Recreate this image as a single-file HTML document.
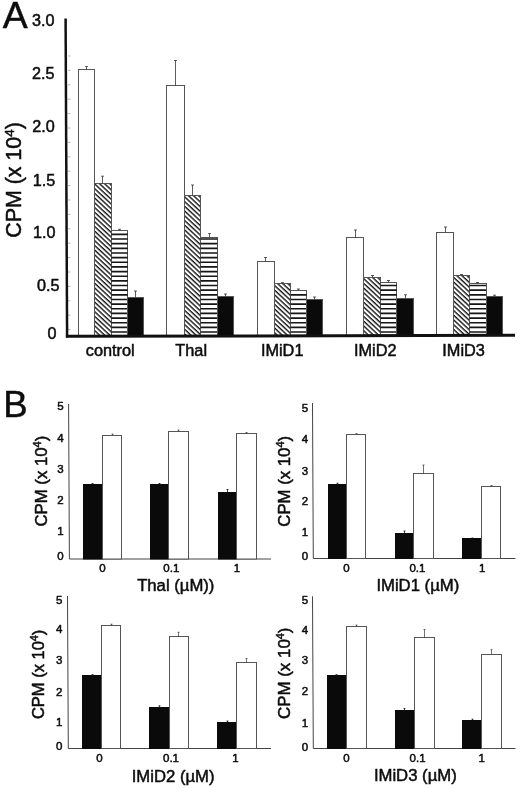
<!DOCTYPE html>
<html><head><meta charset="utf-8"><title>Figure</title>
<style>
html,body{margin:0;padding:0;background:#fff;}
body{width:520px;height:788px;overflow:hidden;}
svg{display:block;filter:grayscale(1);font-family:"Liberation Sans",sans-serif;}
text{fill:#0d0d0d;stroke:#0d0d0d;stroke-width:0.5px;stroke-linejoin:round;}
</style></head><body>
<svg width="520" height="788" viewBox="0 0 520 788">
<defs>
<pattern id="hz" patternUnits="userSpaceOnUse" x="0" y="336" width="10" height="4.5"><rect x="0" y="0" width="10" height="4.5" fill="#fff"/><rect x="0" y="2.6" width="10" height="1.7" fill="#1a1a1a"/></pattern>
<pattern id="dg" patternUnits="userSpaceOnUse" width="10" height="3.46" patternTransform="rotate(43)"><rect x="0" y="0" width="10" height="3.46" fill="#fff"/><rect x="0" y="0" width="10" height="1.4" fill="#161616"/></pattern>
</defs>
<rect width="520" height="788" fill="#fff"/>
<text x="2.8" y="28.2" font-size="37.4">A</text>
<text x="3.2" y="417.3" font-size="36.5">B</text>
<path d="M68 56.00H70.5" stroke="#9a9a9a" stroke-width="0.7"/>
<path d="M68 70.40H70.5" stroke="#9a9a9a" stroke-width="0.7"/>
<path d="M68 84.80H70.5" stroke="#9a9a9a" stroke-width="0.7"/>
<path d="M68 99.20H70.5" stroke="#9a9a9a" stroke-width="0.7"/>
<path d="M68 113.60H70.5" stroke="#9a9a9a" stroke-width="0.7"/>
<path d="M68 128.00H70.5" stroke="#9a9a9a" stroke-width="0.7"/>
<path d="M68 142.40H70.5" stroke="#9a9a9a" stroke-width="0.7"/>
<path d="M68 156.80H70.5" stroke="#9a9a9a" stroke-width="0.7"/>
<path d="M68 171.20H70.5" stroke="#9a9a9a" stroke-width="0.7"/>
<path d="M68 185.60H70.5" stroke="#9a9a9a" stroke-width="0.7"/>
<path d="M68 200.00H70.5" stroke="#9a9a9a" stroke-width="0.7"/>
<path d="M68 214.40H70.5" stroke="#9a9a9a" stroke-width="0.7"/>
<path d="M68 228.80H70.5" stroke="#9a9a9a" stroke-width="0.7"/>
<path d="M68 243.20H70.5" stroke="#9a9a9a" stroke-width="0.7"/>
<path d="M68 257.60H70.5" stroke="#9a9a9a" stroke-width="0.7"/>
<path d="M68 272.00H70.5" stroke="#9a9a9a" stroke-width="0.7"/>
<path d="M68 286.40H70.5" stroke="#9a9a9a" stroke-width="0.7"/>
<path d="M68 300.80H70.5" stroke="#9a9a9a" stroke-width="0.7"/>
<path d="M68 315.20H70.5" stroke="#9a9a9a" stroke-width="0.7"/>
<path d="M68 329.60H70.5" stroke="#9a9a9a" stroke-width="0.7"/>
<text x="54.5" y="26.2" font-size="16.2" text-anchor="end">3.0</text>
<text x="54.4" y="78.8" font-size="16.2" text-anchor="end">2.5</text>
<text x="54.8" y="132.2" font-size="16.2" text-anchor="end">2.0</text>
<text x="55.3" y="185.8" font-size="16.2" text-anchor="end">1.5</text>
<text x="55.5" y="238.2" font-size="16.2" text-anchor="end">1.0</text>
<text x="59.5" y="291.4" font-size="16.2" text-anchor="end">0.5</text>
<text x="56.6" y="338.6" font-size="16.2" text-anchor="end">0</text>
<text transform="translate(21.3,237.8) rotate(-90)" font-size="21.4">CPM (x 10<tspan font-size="13.5" dy="-7.5">4</tspan><tspan dy="7.5">)</tspan></text>
<rect x="78.50" y="69.50" width="16.00" height="266.00" fill="#fff" stroke="#555" stroke-width="1"/>
<path d="M86.50 69.50V66.60M85.00 66.60H88.00" stroke="#333" stroke-width="0.8" fill="none"/>
<rect x="94.50" y="183.50" width="17.00" height="152.00" fill="url(#dg)" stroke="#555" stroke-width="1"/>
<path d="M102.50 183.50V176.20M101.00 176.20H104.00" stroke="#333" stroke-width="0.8" fill="none"/>
<rect x="111.50" y="230.50" width="16.00" height="105.00" fill="#fff" stroke="#555" stroke-width="1"/>
<path d="M111.30 332.00H127.80M111.30 327.35H127.80M111.30 322.70H127.80M111.30 318.05H127.80M111.30 313.40H127.80M111.30 308.75H127.80M111.30 304.10H127.80M111.30 299.45H127.80M111.30 294.80H127.80M111.30 290.15H127.80M111.30 285.50H127.80M111.30 280.85H127.80M111.30 276.20H127.80M111.30 271.55H127.80M111.30 266.90H127.80M111.30 262.25H127.80M111.30 257.60H127.80M111.30 252.95H127.80M111.30 248.30H127.80M111.30 243.65H127.80M111.30 239.00H127.80M111.30 234.35H127.80" stroke="#161616" stroke-width="1.65" fill="none"/>
<path d="M119.50 230.50V229.30M118.00 229.30H121.00" stroke="#333" stroke-width="0.8" fill="none"/>
<rect x="127.50" y="297.50" width="16.00" height="38.00" fill="#0a0a0a" stroke="#555" stroke-width="1"/>
<path d="M135.50 297.50V291.00M134.00 291.00H137.00" stroke="#333" stroke-width="0.8" fill="none"/>
<text x="110.2" y="356" font-size="16.3" text-anchor="middle">control</text>
<rect x="166.50" y="85.50" width="18.00" height="250.00" fill="#fff" stroke="#555" stroke-width="1"/>
<path d="M175.50 85.50V60.50M174.00 60.50H177.00" stroke="#333" stroke-width="0.8" fill="none"/>
<rect x="184.50" y="195.50" width="16.00" height="140.00" fill="url(#dg)" stroke="#555" stroke-width="1"/>
<path d="M192.50 195.50V185.00M191.00 185.00H194.00" stroke="#333" stroke-width="0.8" fill="none"/>
<rect x="200.50" y="237.50" width="17.00" height="98.00" fill="#fff" stroke="#555" stroke-width="1"/>
<path d="M200.60 332.00H217.40M200.60 327.35H217.40M200.60 322.70H217.40M200.60 318.05H217.40M200.60 313.40H217.40M200.60 308.75H217.40M200.60 304.10H217.40M200.60 299.45H217.40M200.60 294.80H217.40M200.60 290.15H217.40M200.60 285.50H217.40M200.60 280.85H217.40M200.60 276.20H217.40M200.60 271.55H217.40M200.60 266.90H217.40M200.60 262.25H217.40M200.60 257.60H217.40M200.60 252.95H217.40M200.60 248.30H217.40M200.60 243.65H217.40M200.60 239.00H217.40" stroke="#161616" stroke-width="1.65" fill="none"/>
<path d="M209.50 237.50V233.60M208.00 233.60H211.00" stroke="#333" stroke-width="0.8" fill="none"/>
<rect x="217.50" y="296.50" width="16.00" height="39.00" fill="#0a0a0a" stroke="#555" stroke-width="1"/>
<path d="M225.50 296.50V294.00M224.00 294.00H227.00" stroke="#333" stroke-width="0.8" fill="none"/>
<text x="191.2" y="356" font-size="16.3" text-anchor="middle">Thal</text>
<rect x="257.50" y="261.50" width="17.00" height="74.00" fill="#fff" stroke="#555" stroke-width="1"/>
<path d="M265.50 261.50V257.50M264.00 257.50H267.00" stroke="#333" stroke-width="0.8" fill="none"/>
<rect x="274.50" y="283.50" width="16.00" height="52.00" fill="url(#dg)" stroke="#555" stroke-width="1"/>
<path d="M282.50 283.50V282.60M281.00 282.60H284.00" stroke="#333" stroke-width="0.8" fill="none"/>
<rect x="290.50" y="290.50" width="16.00" height="45.00" fill="#fff" stroke="#555" stroke-width="1"/>
<path d="M290.70 332.00H306.80M290.70 327.35H306.80M290.70 322.70H306.80M290.70 318.05H306.80M290.70 313.40H306.80M290.70 308.75H306.80M290.70 304.10H306.80M290.70 299.45H306.80M290.70 294.80H306.80" stroke="#161616" stroke-width="1.65" fill="none"/>
<path d="M298.50 290.50V289.00M297.00 289.00H300.00" stroke="#333" stroke-width="0.8" fill="none"/>
<rect x="306.50" y="299.50" width="16.00" height="36.00" fill="#0a0a0a" stroke="#555" stroke-width="1"/>
<path d="M314.50 299.50V297.00M313.00 297.00H316.00" stroke="#333" stroke-width="0.8" fill="none"/>
<text x="282.2" y="356" font-size="16.3" text-anchor="middle">IMiD1</text>
<rect x="346.50" y="237.50" width="17.00" height="98.00" fill="#fff" stroke="#555" stroke-width="1"/>
<path d="M355.50 237.50V230.00M354.00 230.00H357.00" stroke="#333" stroke-width="0.8" fill="none"/>
<rect x="363.50" y="277.50" width="17.00" height="58.00" fill="url(#dg)" stroke="#555" stroke-width="1"/>
<path d="M372.50 277.50V275.50M371.00 275.50H374.00" stroke="#333" stroke-width="0.8" fill="none"/>
<rect x="380.50" y="282.50" width="16.00" height="53.00" fill="#fff" stroke="#555" stroke-width="1"/>
<path d="M380.40 332.00H396.90M380.40 327.35H396.90M380.40 322.70H396.90M380.40 318.05H396.90M380.40 313.40H396.90M380.40 308.75H396.90M380.40 304.10H396.90M380.40 299.45H396.90M380.40 294.80H396.90M380.40 290.15H396.90M380.40 285.50H396.90" stroke="#161616" stroke-width="1.65" fill="none"/>
<path d="M388.50 282.50V280.50M387.00 280.50H390.00" stroke="#333" stroke-width="0.8" fill="none"/>
<rect x="396.50" y="298.50" width="17.00" height="37.00" fill="#0a0a0a" stroke="#555" stroke-width="1"/>
<path d="M405.50 298.50V294.80M404.00 294.80H407.00" stroke="#333" stroke-width="0.8" fill="none"/>
<text x="375.3" y="356" font-size="16.3" text-anchor="middle">IMiD2</text>
<rect x="436.50" y="232.50" width="17.00" height="103.00" fill="#fff" stroke="#555" stroke-width="1"/>
<path d="M445.50 232.50V227.00M444.00 227.00H447.00" stroke="#333" stroke-width="0.8" fill="none"/>
<rect x="453.50" y="275.50" width="16.00" height="60.00" fill="url(#dg)" stroke="#555" stroke-width="1"/>
<path d="M461.50 275.50V274.50M460.00 274.50H463.00" stroke="#333" stroke-width="0.8" fill="none"/>
<rect x="469.50" y="283.50" width="17.00" height="52.00" fill="#fff" stroke="#555" stroke-width="1"/>
<path d="M469.60 332.00H486.00M469.60 327.35H486.00M469.60 322.70H486.00M469.60 318.05H486.00M469.60 313.40H486.00M469.60 308.75H486.00M469.60 304.10H486.00M469.60 299.45H486.00M469.60 294.80H486.00M469.60 290.15H486.00M469.60 285.50H486.00" stroke="#161616" stroke-width="1.65" fill="none"/>
<path d="M477.50 283.50V282.50M476.00 282.50H479.00" stroke="#333" stroke-width="0.8" fill="none"/>
<rect x="486.50" y="296.50" width="16.00" height="39.00" fill="#0a0a0a" stroke="#555" stroke-width="1"/>
<path d="M494.50 296.50V295.20M493.00 295.20H496.00" stroke="#333" stroke-width="0.8" fill="none"/>
<text x="463.6" y="356" font-size="16.3" text-anchor="middle">IMiD3</text>
<path d="M65.6 18.4L67.1 337.5" stroke="#111" stroke-width="2.5" fill="none"/>
<path d="M65.9 336.3L515 335.3" stroke="#111" stroke-width="3" fill="none"/>
<path d="M68.6 404L69.39999999999999 559H271" stroke="#444" stroke-width="1" fill="none"/>
<text x="60.5" y="410.4" font-size="11.5" text-anchor="middle">5</text>
<text x="60.5" y="442.1" font-size="11.5" text-anchor="middle">4</text>
<text x="60.5" y="472.6" font-size="11.5" text-anchor="middle">3</text>
<text x="60.5" y="503.6" font-size="11.5" text-anchor="middle">2</text>
<text x="60.5" y="534.6" font-size="11.5" text-anchor="middle">1</text>
<text x="60.5" y="560.3" font-size="11.5" text-anchor="middle">0</text>
<text transform="translate(46.6,526.5) rotate(-90)" font-size="16.75">CPM (x 10<tspan font-size="10.8" dy="-6">4</tspan><tspan dy="6">)</tspan></text>
<rect x="83.50" y="484.50" width="19.00" height="74.50" fill="#0a0a0a" stroke="#0a0a0a" stroke-width="1"/>
<path d="M92.50 484.50V483.50M91.50 483.50H93.50" stroke="#111" stroke-width="0.8" fill="none"/>
<rect x="102.50" y="435.50" width="19.00" height="123.50" fill="#fff" stroke="#555" stroke-width="1"/>
<path d="M112.50 435.50V434.00M111.50 434.00H113.50" stroke="#333" stroke-width="0.7" fill="none"/>
<rect x="150.50" y="484.50" width="18.00" height="74.50" fill="#0a0a0a" stroke="#0a0a0a" stroke-width="1"/>
<path d="M159.50 484.50V483.50M158.50 483.50H160.50" stroke="#111" stroke-width="0.8" fill="none"/>
<rect x="168.50" y="431.50" width="20.00" height="127.50" fill="#fff" stroke="#555" stroke-width="1"/>
<path d="M178.50 431.50V430.00M177.50 430.00H179.50" stroke="#333" stroke-width="0.7" fill="none"/>
<rect x="218.50" y="492.50" width="18.00" height="66.50" fill="#0a0a0a" stroke="#0a0a0a" stroke-width="1"/>
<path d="M227.50 492.50V489.50M226.50 489.50H228.50" stroke="#111" stroke-width="0.8" fill="none"/>
<rect x="236.50" y="433.50" width="20.00" height="125.50" fill="#fff" stroke="#555" stroke-width="1"/>
<path d="M246.50 433.50V432.50M245.50 432.50H247.50" stroke="#333" stroke-width="0.7" fill="none"/>
<text x="102.5" y="571.8" font-size="11.5" text-anchor="middle">0</text>
<text x="171.3" y="571.8" font-size="11.5" text-anchor="middle">0.1</text>
<text x="237" y="571.8" font-size="11.5" text-anchor="middle">1</text>
<text x="175.8" y="591" font-size="16.7" text-anchor="middle">Thal (µM))</text>
<path d="M312.5 403L313.3 558.5H515.5" stroke="#444" stroke-width="1" fill="none"/>
<text x="305.0" y="412.4" font-size="11.5" text-anchor="middle">5</text>
<text x="305.0" y="443.4" font-size="11.5" text-anchor="middle">4</text>
<text x="305.0" y="474.9" font-size="11.5" text-anchor="middle">3</text>
<text x="305.0" y="505.2" font-size="11.5" text-anchor="middle">2</text>
<text x="305.0" y="536.2" font-size="11.5" text-anchor="middle">1</text>
<text x="305.0" y="560.3" font-size="11.5" text-anchor="middle">0</text>
<text transform="translate(289.6,526.7) rotate(-90)" font-size="16.75">CPM (x 10<tspan font-size="10.8" dy="-6">4</tspan><tspan dy="6">)</tspan></text>
<rect x="328.50" y="484.50" width="18.00" height="74.00" fill="#0a0a0a" stroke="#0a0a0a" stroke-width="1"/>
<path d="M337.50 484.50V483.20M336.50 483.20H338.50" stroke="#111" stroke-width="0.8" fill="none"/>
<rect x="346.50" y="434.50" width="19.00" height="124.00" fill="#fff" stroke="#555" stroke-width="1"/>
<path d="M356.50 434.50V433.60M355.50 433.60H357.50" stroke="#333" stroke-width="0.7" fill="none"/>
<rect x="395.50" y="533.50" width="18.00" height="25.00" fill="#0a0a0a" stroke="#0a0a0a" stroke-width="1"/>
<path d="M404.50 533.50V531.00M403.50 531.00H405.50" stroke="#111" stroke-width="0.8" fill="none"/>
<rect x="413.50" y="473.50" width="20.00" height="85.00" fill="#fff" stroke="#555" stroke-width="1"/>
<path d="M423.50 473.50V465.00M422.50 465.00H424.50" stroke="#333" stroke-width="0.7" fill="none"/>
<rect x="462.50" y="538.50" width="19.00" height="20.00" fill="#0a0a0a" stroke="#0a0a0a" stroke-width="1"/>
<path d="M472.50 538.50V538.00M471.50 538.00H473.50" stroke="#111" stroke-width="0.8" fill="none"/>
<rect x="481.50" y="486.50" width="19.00" height="72.00" fill="#fff" stroke="#555" stroke-width="1"/>
<path d="M491.50 486.50V485.50M490.50 485.50H492.50" stroke="#333" stroke-width="0.7" fill="none"/>
<text x="346.5" y="571.8" font-size="11.5" text-anchor="middle">0</text>
<text x="417.4" y="571.8" font-size="11.5" text-anchor="middle">0.1</text>
<text x="482.2" y="571.8" font-size="11.5" text-anchor="middle">1</text>
<text x="417.8" y="591" font-size="16.7" text-anchor="middle">IMiD1 (µM)</text>
<path d="M67.5 596L68.3 748.5H271" stroke="#444" stroke-width="1" fill="none"/>
<text x="59.1" y="603.5" font-size="11.5" text-anchor="middle">5</text>
<text x="59.1" y="633.4" font-size="11.5" text-anchor="middle">4</text>
<text x="59.1" y="664.1" font-size="11.5" text-anchor="middle">3</text>
<text x="59.1" y="695.8" font-size="11.5" text-anchor="middle">2</text>
<text x="59.1" y="726.0" font-size="11.5" text-anchor="middle">1</text>
<text x="59.1" y="749.6" font-size="11.5" text-anchor="middle">0</text>
<text transform="translate(43.8,719.1) rotate(-90)" font-size="16.5">CPM (x 10<tspan font-size="10.8" dy="-6">4</tspan><tspan dy="6">)</tspan></text>
<rect x="82.50" y="675.50" width="19.00" height="73.00" fill="#0a0a0a" stroke="#0a0a0a" stroke-width="1"/>
<path d="M92.50 675.50V674.70M91.50 674.70H93.50" stroke="#111" stroke-width="0.8" fill="none"/>
<rect x="101.50" y="625.50" width="19.00" height="123.00" fill="#fff" stroke="#555" stroke-width="1"/>
<path d="M111.50 625.50V624.20M110.50 624.20H112.50" stroke="#333" stroke-width="0.7" fill="none"/>
<rect x="149.50" y="707.50" width="20.00" height="41.00" fill="#0a0a0a" stroke="#0a0a0a" stroke-width="1"/>
<path d="M159.50 707.50V705.80M158.50 705.80H160.50" stroke="#111" stroke-width="0.8" fill="none"/>
<rect x="169.50" y="636.50" width="19.00" height="112.00" fill="#fff" stroke="#555" stroke-width="1"/>
<path d="M178.50 636.50V632.30M177.50 632.30H179.50" stroke="#333" stroke-width="0.7" fill="none"/>
<rect x="217.50" y="722.50" width="19.00" height="26.00" fill="#0a0a0a" stroke="#0a0a0a" stroke-width="1"/>
<path d="M227.50 722.50V721.00M226.50 721.00H228.50" stroke="#111" stroke-width="0.8" fill="none"/>
<rect x="236.50" y="662.50" width="20.00" height="86.00" fill="#fff" stroke="#555" stroke-width="1"/>
<path d="M246.50 662.50V658.50M245.50 658.50H247.50" stroke="#333" stroke-width="0.7" fill="none"/>
<text x="99.5" y="762.2" font-size="11.5" text-anchor="middle">0</text>
<text x="171" y="762.2" font-size="11.5" text-anchor="middle">0.1</text>
<text x="235.5" y="762.2" font-size="11.5" text-anchor="middle">1</text>
<text x="173.1" y="782" font-size="16.7" text-anchor="middle">IMiD2 (µM)</text>
<path d="M312.5 596.3L313.3 748.5H515.5" stroke="#444" stroke-width="1" fill="none"/>
<text x="305" y="604.1" font-size="11.5" text-anchor="middle">5</text>
<text x="305" y="633.8" font-size="11.5" text-anchor="middle">4</text>
<text x="305" y="664.3" font-size="11.5" text-anchor="middle">3</text>
<text x="305" y="695.4" font-size="11.5" text-anchor="middle">2</text>
<text x="305" y="727.0" font-size="11.5" text-anchor="middle">1</text>
<text x="305" y="750.6" font-size="11.5" text-anchor="middle">0</text>
<text transform="translate(290.2,719) rotate(-90)" font-size="16.9">CPM (x 10<tspan font-size="10.8" dy="-6">4</tspan><tspan dy="6">)</tspan></text>
<rect x="327.50" y="675.50" width="19.00" height="73.00" fill="#0a0a0a" stroke="#0a0a0a" stroke-width="1"/>
<path d="M336.50 675.50V674.70M335.50 674.70H337.50" stroke="#111" stroke-width="0.8" fill="none"/>
<rect x="346.50" y="626.50" width="20.00" height="122.00" fill="#fff" stroke="#555" stroke-width="1"/>
<path d="M356.50 626.50V625.00M355.50 625.00H357.50" stroke="#333" stroke-width="0.7" fill="none"/>
<rect x="395.50" y="710.50" width="19.00" height="38.00" fill="#0a0a0a" stroke="#0a0a0a" stroke-width="1"/>
<path d="M404.50 710.50V708.50M403.50 708.50H405.50" stroke="#111" stroke-width="0.8" fill="none"/>
<rect x="414.50" y="637.50" width="20.00" height="111.00" fill="#fff" stroke="#555" stroke-width="1"/>
<path d="M424.50 637.50V629.50M423.50 629.50H425.50" stroke="#333" stroke-width="0.7" fill="none"/>
<rect x="462.50" y="720.50" width="19.00" height="28.00" fill="#0a0a0a" stroke="#0a0a0a" stroke-width="1"/>
<path d="M472.50 720.50V719.20M471.50 719.20H473.50" stroke="#111" stroke-width="0.8" fill="none"/>
<rect x="481.50" y="654.50" width="20.00" height="94.00" fill="#fff" stroke="#555" stroke-width="1"/>
<path d="M491.50 654.50V649.70M490.50 649.70H492.50" stroke="#333" stroke-width="0.7" fill="none"/>
<text x="346.4" y="762.2" font-size="11.5" text-anchor="middle">0</text>
<text x="417.6" y="762.2" font-size="11.5" text-anchor="middle">0.1</text>
<text x="481.6" y="762.2" font-size="11.5" text-anchor="middle">1</text>
<text x="415.3" y="780.6" font-size="16.7" text-anchor="middle">IMiD3 (µM)</text>
</svg>
</body></html>
